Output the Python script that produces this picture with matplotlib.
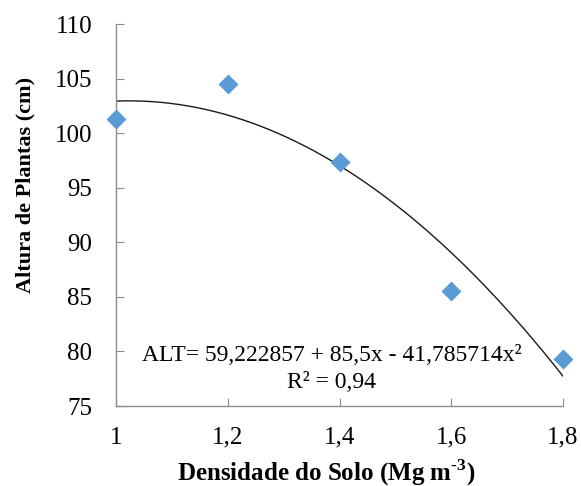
import numpy as np
import matplotlib
matplotlib.use('Agg')
import matplotlib.pyplot as plt

# dados
densidade = [1.0, 1.2, 1.4, 1.6, 1.8]
altura = [101.3, 104.5, 97.4, 85.5, 79.3]
coef = [59.222857, 85.5, -41.785714]  # ALT = a + b*x + c*x^2
x_ticks = [1.0, 1.2, 1.4, 1.6, 1.8]
x_tick_labels = ['1', '1,2', '1,4', '1,6', '1,8']
y_ticks = [75, 80, 85, 90, 95, 100, 105, 110]

plt.rcParams['font.family'] = ['Liberation Serif', 'DejaVu Serif']
plt.rcParams['mathtext.fontset'] = 'custom'
plt.rcParams['mathtext.rm'] = 'Liberation Serif:bold'
plt.rcParams['mathtext.bf'] = 'Liberation Serif:bold'

fig = plt.figure(figsize=(5.81, 4.86), dpi=100)
ax = fig.add_axes([0.1997, 0.1646, 0.7693, 0.786])

xs = np.linspace(min(densidade), max(densidade), 200)
ys = coef[0] + coef[1] * xs + coef[2] * xs ** 2
ax.plot(xs, ys, color='#1a1a1a', lw=1.0, zorder=2)
ax.plot(densidade, altura, 'D', color='#5B9BD5', markersize=10.5, mec='none',
        clip_on=False, zorder=3)

ax.set_xlim(1.0, 1.8)
ax.set_ylim(75, 110)
ax.set_xticks(x_ticks)
ax.set_xticklabels(x_tick_labels)
ax.set_yticks(y_ticks)

for s in ['top', 'right']:
    ax.spines[s].set_visible(False)
for s in ['left', 'bottom']:
    ax.spines[s].set_color('#8c8c8c')
    ax.spines[s].set_linewidth(1.0)

ax.tick_params(axis='y', direction='in', length=6, color='#8c8c8c', labelsize=18, pad=17)
ax.tick_params(axis='x', direction='in', length=6, color='#8c8c8c', labelsize=18, pad=15)

ax.set_xlabel('Densidade do Solo (Mg m$^{\\text{-3}}$)', fontsize=18, fontweight='bold')
ax.set_ylabel('Altura de Plantas (cm)', fontsize=16, fontweight='bold')
ax.xaxis.set_label_coords(0.471, -0.135)
ax.yaxis.set_label_coords(-0.181, 0.579)

ax.text(1.386, 79.6, 'ALT= 59,222857 + 85,5x - 41,785714x²', ha='center', va='center', fontsize=17)
ax.text(1.386, 77.15, 'R² = 0,94', ha='center', va='center', fontsize=17)

fig.savefig('out.png', dpi=100)
